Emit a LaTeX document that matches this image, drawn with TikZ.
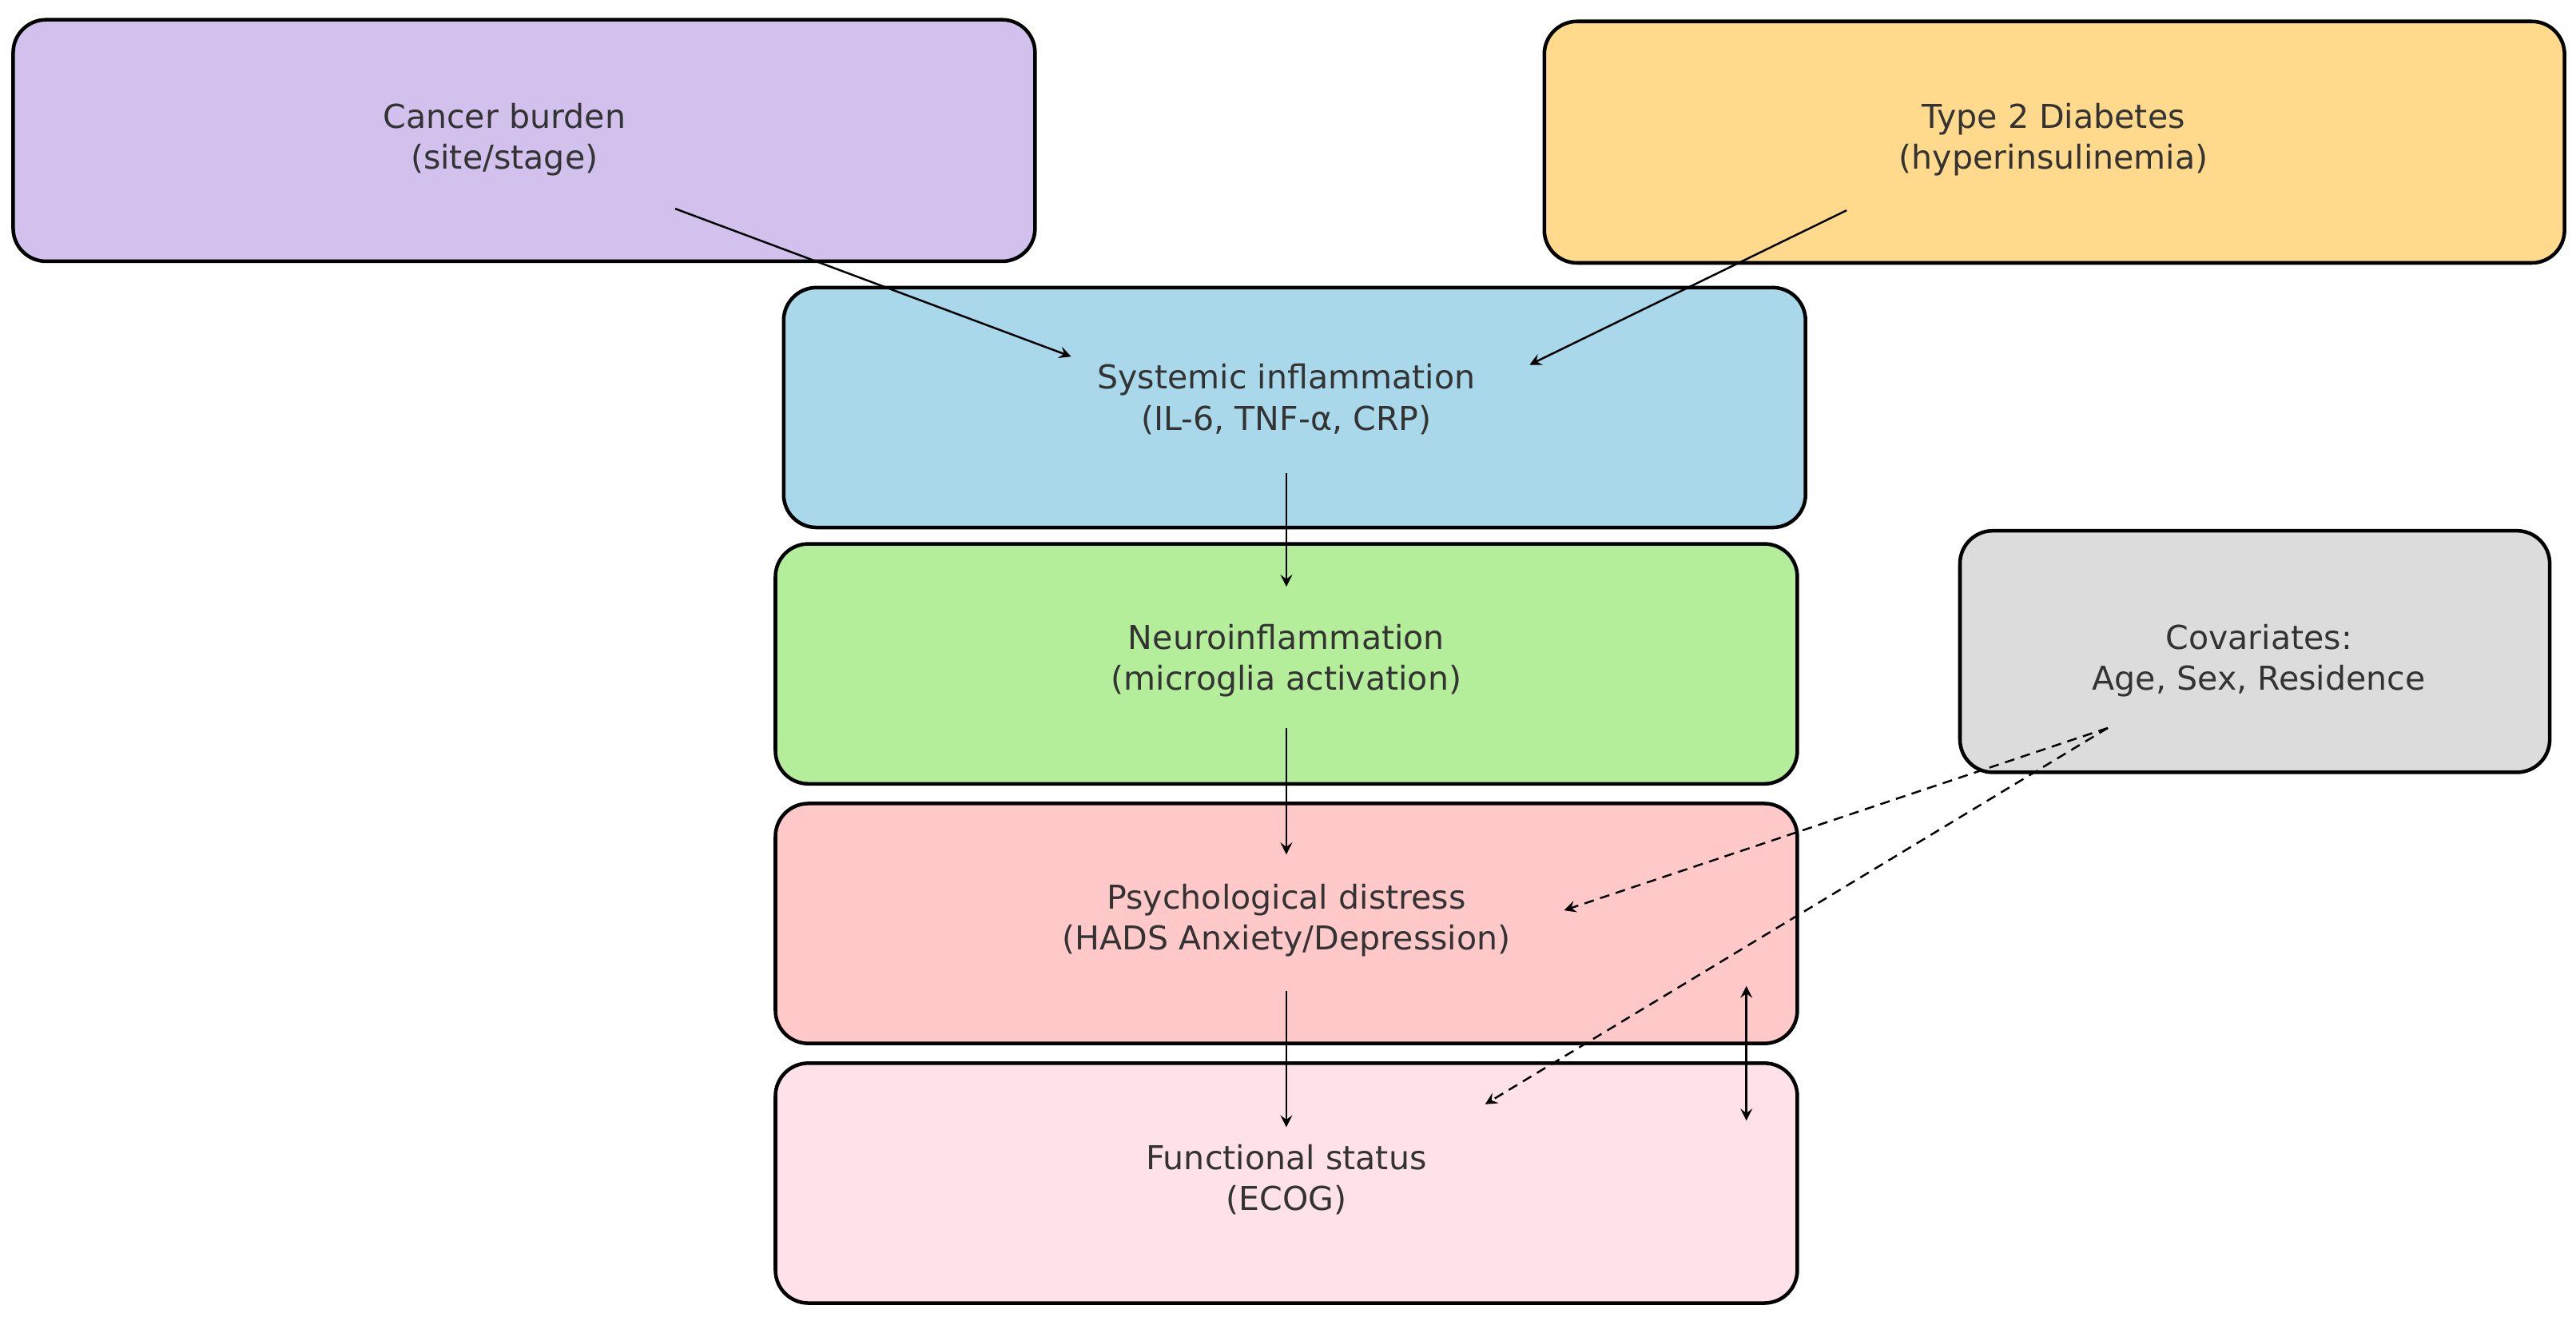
\documentclass[tikz,border=0pt]{standalone}
\usepackage{fontspec}
\setmainfont{DejaVu Sans}
\begin{document}
\begin{tikzpicture}[x=0.5pt,y=-0.5pt,
  box/.style={draw=black,line width=1.1pt,rounded corners=10pt,inner sep=0pt},
  lbl/.style={align=center,text=black!80,font=\fontsize{10}{12.5}\selectfont},
  arr/.style={-stealth,line width=0.6pt},
  darr/.style={-stealth,line width=0.6pt,dash pattern=on 3pt off 2pt}]
\useasboundingbox (0,0) rectangle (1568,811);
\definecolor{cpurple}{HTML}{D1C1EC}
\definecolor{cyellow}{HTML}{FFD98C}
\definecolor{cblue}{HTML}{A8D8EA}
\definecolor{cgreen}{HTML}{B5EE9B}
\definecolor{cred}{HTML}{FFC9C9}
\definecolor{cpink}{HTML}{FFE1EA}
\definecolor{cgray}{HTML}{DCDCDC}
\draw[box,fill=cpurple] (8,12) rectangle (630,159);
\draw[box,fill=cyellow] (940,13) rectangle (1561,160);
\draw[box,fill=cblue] (477,175) rectangle (1099,321);
\draw[box,fill=cgreen] (472,331) rectangle (1094,477);
\draw[box,fill=cred] (472,489) rectangle (1094,635);
\draw[box,fill=cpink] (472,647) rectangle (1094,793);
\draw[box,fill=cgray] (1193,323) rectangle (1552,470);
\node[lbl] (cancer) at (307,85) {Cancer burden\\(site/stage)};
\node[lbl] (t2d) at (1250,85) {Type 2 Diabetes\\(hyperinsulinemia)};
\node[lbl] (sys) at (783,243) {Systemic inflammation\\(IL-6, TNF-α, CRP)};
\node[lbl] (neuro) at (783,402) {Neuroinflammation\\(microglia activation)};
\node[lbl] (psych) at (783,560) {Psychological distress\\(HADS Anxiety/Depression)};
\node[lbl] (func) at (783,718) {Functional status\\(ECOG)};
\node[lbl] (cov) at (1375,402) {Covariates:\\Age, Sex, Residence};
\coordinate (a1s) at (411,127); \coordinate (a1e) at (652,217);
\coordinate (a2s) at (1124,128); \coordinate (a2e) at (931,222);
\coordinate (a3s) at (783,288); \coordinate (a3e) at (783,357);
\coordinate (a4s) at (783,443); \coordinate (a4e) at (783,520);
\coordinate (a5s) at (783,603); \coordinate (a5e) at (783,686);
\coordinate (bs) at (1063,600); \coordinate (be) at (1063,682);
\coordinate (cs) at (1283,443); \coordinate (c1) at (952,554); \coordinate (c2) at (904,672);
\draw[arr] (a1s) -- (a1e);
\draw[arr] (a2s) -- (a2e);
\draw[arr] (a3s) -- (a3e);
\draw[arr] (a4s) -- (a4e);
\draw[arr] (a5s) -- (a5e);
\draw[arr,stealth-stealth] (bs) -- (be);
\draw[darr] (cs) -- (c1);
\draw[darr] (cs) -- (c2);
\end{tikzpicture}
\end{document}
